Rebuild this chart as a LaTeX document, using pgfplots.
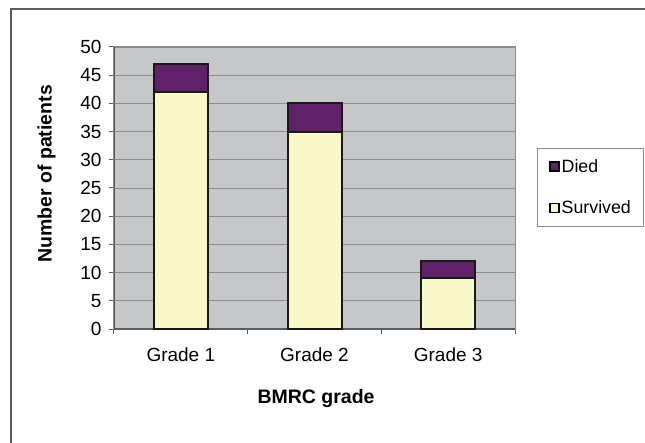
\documentclass[border=0pt]{standalone}
\usepackage{pgfplots}
\pgfplotsset{compat=1.18}
\usepackage{fontspec}
\setmainfont{Liberation Sans}
\definecolor{died}{HTML}{60206A}
\definecolor{surv}{HTML}{FAF8C8}
\definecolor{plotbg}{HTML}{C6C7C9}
\definecolor{gridc}{HTML}{8C8C8C}
\definecolor{framec}{HTML}{5A5A5A}
\begin{document}
\begin{tikzpicture}[x=1pt,y=1pt]
\useasboundingbox (0,0) rectangle (645,442);
\fill[white] (0,0) rectangle (645,442);
\draw[color=framec, line width=1.3pt] (11,-10) rectangle (660,433);
\begin{axis}[
  at={(114pt,113pt)}, anchor=south west,
  width=401pt, height=282pt, scale only axis,
  xmin=-0.5, xmax=2.5, ymin=0, ymax=50,
  ybar stacked, bar width=54pt,
  axis background/.style={fill=plotbg},
  axis line style={draw=gridc, line width=1pt},
  ytick={0,5,...,50},
  /pgf/number format/assume math mode=true,
  ymajorgrids, grid style={draw=gridc, line width=0.9pt},
  xtick={0,1,2}, xticklabels={Grade 1,Grade 2,Grade 3},
  major x tick style={draw=none},
  minor xtick={-0.5,0.5,1.5,2.5},
  minor x tick style={draw=framec, line width=1pt},
  major y tick style={draw=framec, line width=1pt},
  minor tick length=5pt, major tick length=5pt,
  tick align=outside, tick pos=left,
  ticklabel style={font=\fontsize{19}{22}\selectfont},
  xticklabel style={yshift=-10pt},
  yticklabel style={xshift=-4pt},
  xlabel={\textbf{BMRC grade}},
  ylabel={\textbf{Number of patients}},
  label style={font=\fontsize{19.5}{22}\selectfont},
  xlabel style={at={(axis description cs:0.504,-0.245)}, anchor=center},
  ylabel style={at={(axis description cs:-0.168,0.55)}, anchor=center},
  legend style={at={(axis description cs:1.055,0.642)}, anchor=north west,
    draw=gridc, line width=0.8pt, fill=white, font=\fontsize{17.8}{20}\selectfont,
    row sep=27pt, column sep=2pt, inner xsep=12pt, inner ysep=11pt,
    nodes={inner sep=0pt}},
  legend cell align=left,
  reverse legend,
  legend image code/.code={\draw[#1, draw=black, line width=1.2pt] (0pt,-4.5pt) rectangle (9pt,4.5pt);},
]
\addplot[fill=surv, draw=black!90, line width=2pt] coordinates {(0,42) (1,35) (2,9)};
\addplot[fill=died, draw=black!90, line width=2pt] coordinates {(0,5) (1,5) (2,3)};
\legend{Survived,Died}
\draw[framec, line width=1.2pt] (rel axis cs:0,0) -- (rel axis cs:1,0);
\draw[framec, line width=1.2pt] (rel axis cs:0,0) -- (rel axis cs:0,1);
\end{axis}
\end{tikzpicture}
\end{document}
